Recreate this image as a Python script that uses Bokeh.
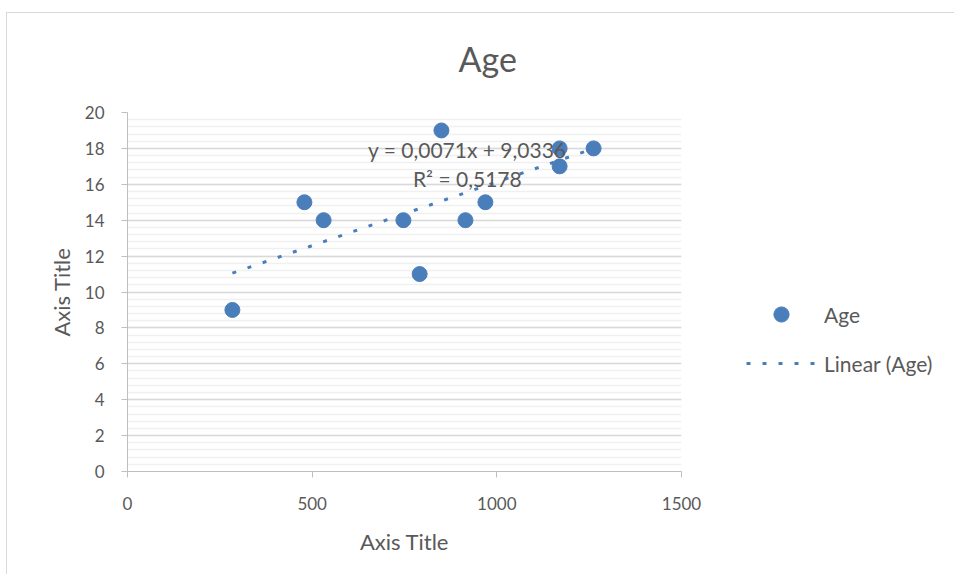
from bokeh.plotting import figure
from bokeh.models import (Range1d, SingleIntervalTicker, Label, Legend, LegendItem,
                          ColumnDataSource, Title)
from bokeh.embed import file_html
from bokeh.resources import INLINE

# ---- data ----
sales = [284, 479, 531, 747, 791, 850, 915, 969, 1170, 1170, 1262]
age = [9, 15, 14, 14, 11, 19, 14, 15, 18, 17, 18]
x_ticks = [0, 500, 1000, 1500]
slope = 0.0071
intercept = 9.0336
title_text = "Age"
eq_text = "y = 0,0071x + 9,0336"
r2_text = "R² = 0,5178"

FONT = "Lato"
TXT = "#595959"
BLUE = "#4a7ebb"

p = figure(frame_width=554, frame_height=359, output_backend="svg",
           toolbar_location=None, title_location=None,
           x_range=Range1d(0, 1500), y_range=Range1d(0, 20),
           min_border_left=120, min_border_right=266, min_border_top=99,
           min_border_bottom=103)
p.styles = {"border-top": "1px solid #d9d9d9", "border-left": "1px solid #d9d9d9",
            "margin-top": "12px", "margin-left": "6px"}
p.outline_line_color = None
p.background_fill_color = "white"

# spacer panel between frame and title, then the chart title
p.add_layout(Title(text=" ", text_font_size="2px", standoff=30), "above")
p.add_layout(Title(text=title_text, align="left", offset=331, standoff=0,
                   text_font=FONT, text_font_size="34px",
                   text_font_style="normal", text_color=TXT), "above")

# axes
p.xaxis.ticker = x_ticks
p.yaxis.ticker = SingleIntervalTicker(interval=2, num_minor_ticks=5)
for ax in (p.xaxis[0], p.yaxis[0]):
    ax.axis_line_color = "#bfbfbf"
    ax.major_tick_line_color = "#bfbfbf"
    ax.major_tick_out = 6
    ax.major_tick_in = 0
    ax.minor_tick_line_color = None
    ax.major_label_text_font = FONT
    ax.major_label_text_font_size = "17px"
    ax.major_label_text_color = TXT
    ax.axis_label = "Axis Title"
    ax.axis_label_text_font = FONT
    ax.axis_label_text_font_size = "22px"
    ax.axis_label_text_font_style = "normal"
    ax.axis_label_text_color = TXT
p.xaxis.major_label_standoff = 19
p.xaxis.axis_label_standoff = 15
p.yaxis.major_label_standoff = 17
p.yaxis.axis_label_standoff = 7

p.xgrid.grid_line_color = None
p.ygrid.grid_line_color = "#d9d9d9"
p.ygrid.grid_line_width = 1.5
p.ygrid.minor_grid_line_color = "#f0f0f0"
p.ygrid.minor_grid_line_width = 1.5

# trendline from fitted coefficients
tx = [min(sales), max(sales)]
ty = [slope * v + intercept for v in tx]
trend = p.line(tx, ty, line_color=BLUE, line_width=3, line_dash="4 12")

src = ColumnDataSource(dict(x=sales, y=age))
pts = p.scatter("x", "y", source=src, size=15, fill_color=BLUE, line_color=BLUE)

# equation labels
p.add_layout(Label(x=920, y=17.95, text=eq_text, text_align="center",
                   text_baseline="middle", text_font=FONT,
                   text_font_size="21px", text_color=TXT))
p.add_layout(Label(x=920, y=16.35, text=r2_text, text_align="center",
                   text_baseline="middle", text_font=FONT,
                   text_font_size="21px", text_color=TXT))

legend = Legend(items=[LegendItem(label="Age", renderers=[pts]),
                       LegendItem(label="Linear (Age)", renderers=[trend])],
                location=(65, 89), orientation="vertical",
                glyph_width=70, glyph_height=38, spacing=11,
                label_standoff=8, label_text_font=FONT,
                label_text_font_size="21px", label_text_color=TXT,
                background_fill_alpha=0, border_line_color=None,
                padding=0, margin=0)
p.add_layout(legend, "right")

open("out.html", "w").write(file_html(p, INLINE))
